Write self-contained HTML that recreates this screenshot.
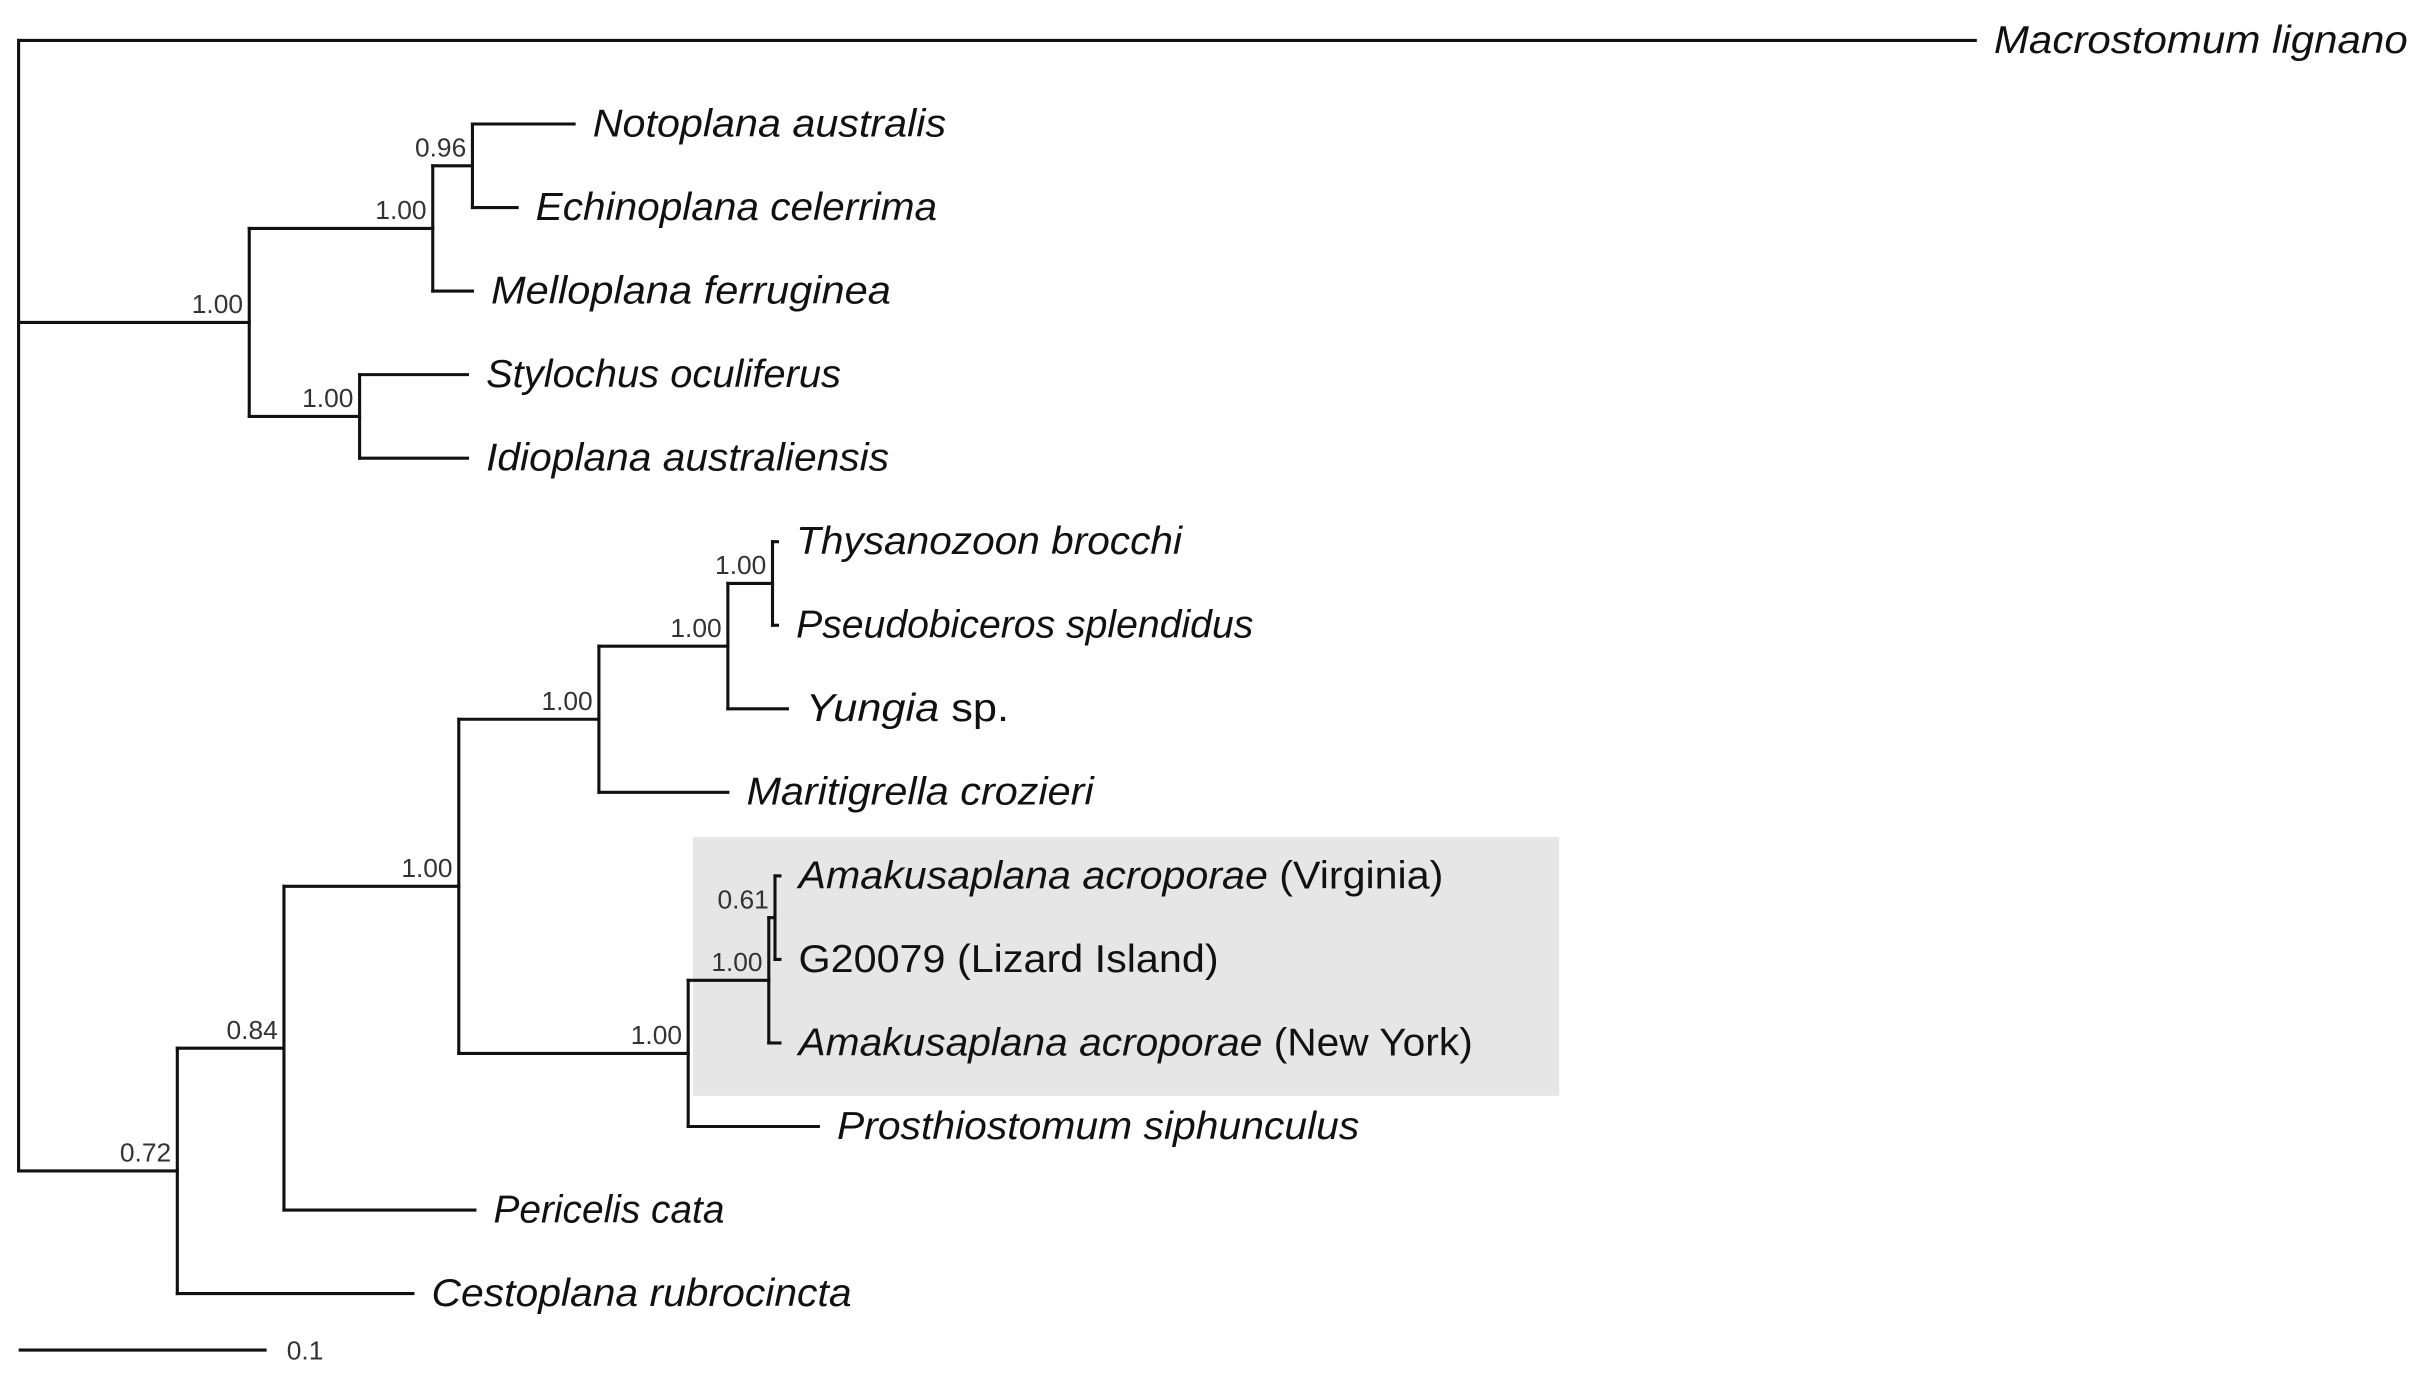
<!DOCTYPE html>
<html><head><meta charset="utf-8"><style>
html,body{margin:0;padding:0;background:#fff;}
svg{display:block;}
text{font-family:"Liberation Sans",sans-serif;}
</style></head><body>
<svg id="tree" width="2422" height="1379" viewBox="0 0 1562.6 889.7" preserveAspectRatio="none" xmlns="http://www.w3.org/2000/svg">
<rect x="447" y="540" width="559" height="167" fill="#e6e6e6"/>
<g id="branches"></g><g id="labels"></g><g id="supports"></g>
<g>
<line x1="12" y1="871" x2="172" y2="871" stroke="#111" stroke-width="2"/>
<text x="185" y="877" font-size="17" fill="#333">0.1</text>
</g>
</svg>
<script>
// tree data: node id, parent, depth (substitutions/site), support
const nodeIds   = ["root","mac","A","A1","A11","noto","echi","mell","A2","styl","idio","B","B1","B11","B111","B1111","B11111","thys","pseu","yung","mari","B112","B1121","B11211","virg","g200","nyrk","pros","peri","cest"];
const parents   = [null,"root","root","A","A1","A11","A11","A1","A","A2","A2","root","B","B1","B11","B111","B1111","B11111","B11111","B1111","B111","B11","B112","B1121","B11211","B11211","B1121","B112","B1","B"];
const depths    = [0,0.789,0.093,0.167,0.183,0.224,0.201,0.183,0.1375,0.181,0.181,0.064,0.107,0.1775,0.234,0.286,0.304,0.306,0.306,0.31,0.286,0.27,0.3025,0.305,0.307,0.307,0.307,0.3225,0.184,0.159];
const supports  = [null,null,"1.00","1.00","0.96",null,null,null,"1.00",null,null,"0.72","0.84","1.00","1.00","1.00","1.00",null,null,null,null,"1.00","1.00","0.61",null,null,null,null,null,null];
// leaves in display order (row index), Macrostomum at row -1
const leafIds   = ["mac","noto","echi","mell","styl","idio","thys","pseu","yung","mari","virg","g200","nyrk","pros","peri","cest"];
const leafRows  = [-1,0,1,2,3,4,5,6,7,8,9,10,11,12,13,14];
const leafNames = [
 [["Macrostomum lignano",1]],[["Notoplana australis",1]],[["Echinoplana celerrima",1]],[["Melloplana ferruginea",1]],
 [["Stylochus oculiferus",1]],[["Idioplana australiensis",1]],[["Thysanozoon brocchi",1]],[["Pseudobiceros splendidus",1]],
 [["Yungia",1],[" sp.",0]],[["Maritigrella crozieri",1]],[["Amakusaplana acroporae",1],[" (Virginia)",0]],
 [["G20079  (Lizard Island)",0]],[["Amakusaplana acroporae",1],[" (New York)",0]],[["Prosthiostomum siphunculus",1]],
 [["Pericelis cata",1]],[["Cestoplana rubrocincta",1]]];
const labelWidths = [267,228,259,258,229,260,249,295,131,224,416,271,435,337,149,271];

const X0=12, PX_PER_UNIT=1600, Y0=80, ROW=53.9;
const xs=d=>X0+d*PX_PER_UNIT, ys=r=>Y0+r*ROW;
const NS="http://www.w3.org/2000/svg";
const idx={}; nodeIds.forEach((n,i)=>idx[n]=i);
const kids={}; nodeIds.forEach(n=>kids[n]=[]);
parents.forEach((p,i)=>{if(p)kids[p].push(nodeIds[i]);});
const Y={};
leafIds.forEach((l,i)=>Y[l]=ys(leafRows[i]));
function yOf(n){ if(Y[n]!==undefined) return Y[n]; const c=kids[n].map(yOf); Y[n]=(Math.min(...c)+Math.max(...c))/2; return Y[n]; }
yOf("root");
const gB=document.getElementById("branches"), gL=document.getElementById("labels"), gS=document.getElementById("supports");
function line(x1,y1,x2,y2,name){
 const l=document.createElementNS(NS,"line");
 l.setAttribute("x1",x1);l.setAttribute("y1",y1);l.setAttribute("x2",x2);l.setAttribute("y2",y2);
 l.setAttribute("stroke","#111");l.setAttribute("stroke-width","2");l.setAttribute("stroke-linecap","square");
 
 
 gB.appendChild(l);
}
nodeIds.forEach((n,i)=>{
 const p=parents[i];
 if(p){ line(xs(depths[idx[p]]),Y[n],xs(depths[i]),Y[n],"branch-"+n); }
 if(kids[n].length){
  const c=kids[n].map(k=>Y[k]);
  line(xs(depths[i]),Math.min(...c),xs(depths[i]),Math.max(...c),"node-"+n);
 }
 if(supports[i]){
  const t=document.createElementNS(NS,"text");
  t.setAttribute("x",xs(depths[i])-4);t.setAttribute("y",Y[n]-6);
  t.setAttribute("text-anchor","end");t.setAttribute("font-size","17");t.setAttribute("fill","#333");
  t.textContent=supports[i];
  
  
  gS.appendChild(t);
 }
});
leafIds.forEach((l,i)=>{
 const t=document.createElementNS(NS,"text");
 t.setAttribute("x",xs(depths[idx[l]])+12);t.setAttribute("y",Y[l]+8);
 t.setAttribute("font-size","25");t.setAttribute("fill","#111");
 t.setAttribute("textLength",labelWidths[i]);t.setAttribute("lengthAdjust","spacingAndGlyphs");
 leafNames[i].forEach(([s,it])=>{
  const sp=document.createElementNS(NS,"tspan");
  if(it) sp.setAttribute("font-style","italic");
  sp.setAttribute("xml:space","preserve");
  sp.textContent=s; t.appendChild(sp);
 });
 
 
 gL.appendChild(t);
});
</script>
</body></html>
